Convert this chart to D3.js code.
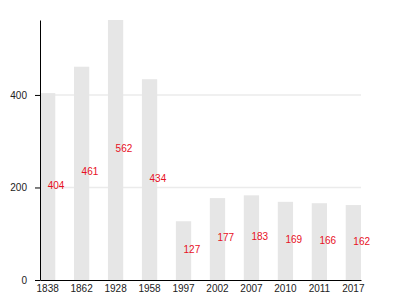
<!DOCTYPE html>
<html>
<head>
<meta charset="utf-8">
<script src="https://cdn.jsdelivr.net/npm/d3@7"></script>
<style>
  body { margin: 0; background: #fff; }
  text { font-family: "Liberation Sans", Arial, sans-serif; }
</style>
</head>
<body>
<div id="container"></div>
<script>
var years = ['1838', '1862', '1928', '1958', '1997', '2002', '2007', '2010', '2011', '2017'];
var population = [404, 461, 562, 434, 127, 177, 183, 169, 166, 162];
var yTicks = [0, 200, 400];

var chart = {};
chart.width = 400, chart.height = 300;
chart.left = 40, chart.right = 361, chart.top = 20, chart.bottom = 280;

chart.svg = d3.select('#container').append('svg').attr('width', chart.width).attr('height', chart.height);

var defs = chart.svg.append('defs');
defs.append('filter').attr('id', 'soft').attr('x', '-20%').attr('y', '-5%').attr('width', '140%').attr('height', '110%')
  .append('feGaussianBlur').attr('stdDeviation', 0.7);

chart.xScale = d3.scaleBand().domain(years).range([chart.left, chart.right]).paddingInner(0.55).paddingOuter(0);
chart.yScale = d3.scaleLinear().domain([0, d3.max(population)]).range([chart.bottom, chart.top]);

// grid lines go first so bars sit on top
chart.svg.append('g').selectAll('line').data(yTicks.filter(d => d > 0)).join('line')
  .attr('x1', chart.left).attr('x2', chart.right)
  .attr('y1', d => chart.yScale(d)).attr('y2', d => chart.yScale(d))
  .attr('stroke', '#ebebeb').attr('stroke-width', 1.5);

chart.svg.append('g').attr('filter', 'url(#soft)').selectAll('rect').data(population).join('rect')
  .attr('x', (d, i) => chart.xScale(years[i]))
  .attr('y', d => chart.yScale(d))
  .attr('width', chart.xScale.bandwidth())
  .attr('height', d => chart.bottom - chart.yScale(d))
  .attr('fill', '#e6e6e6');

chart.svg.append('g').selectAll('text').data(population).join('text')
  .attr('x', (d, i) => chart.xScale(years[i]) + chart.xScale.bandwidth() / 2)
  .attr('y', d => (chart.yScale(d) + chart.bottom) / 2)
  .attr('dy', '0.2em')
  .attr('fill', '#e8101e').attr('font-size', 10)
  .text(d => d);

// axes
chart.yAxis = chart.svg.append('g').attr('transform', 'translate(' + chart.left + ',0)')
  .call(d3.axisLeft(chart.yScale).tickValues(yTicks).tickSize(5).tickPadding(8).tickSizeOuter(0));
chart.xAxis = chart.svg.append('g').attr('transform', 'translate(0,' + chart.bottom + ')')
  .call(d3.axisBottom(chart.xScale).tickSize(0).tickPadding(5).tickSizeOuter(0));

chart.svg.selectAll('.tick text').attr('font-family', '"Liberation Sans", Arial, sans-serif').attr('font-size', 10).attr('fill', '#222');
chart.svg.selectAll('.domain, .tick line').attr('stroke', '#000');
</script>
</body>
</html>
